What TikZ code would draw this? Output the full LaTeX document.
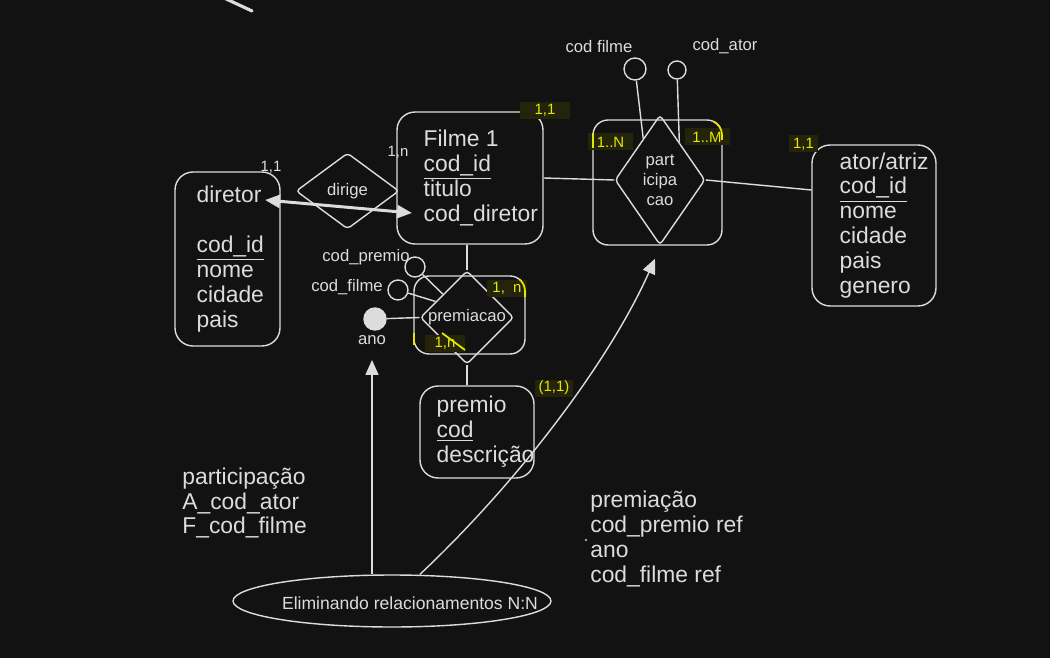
\documentclass[tikz,border=0pt]{standalone}
\usepackage{fontspec}
\setmainfont{Liberation Sans}
\usetikzlibrary{shapes.geometric,arrows.meta}
\definecolor{bgdark}{HTML}{121212}
\definecolor{ink}{HTML}{DCDCDC}
\definecolor{cardyellow}{HTML}{E6E600}
\definecolor{cardbg}{HTML}{24240A}

\begin{document}
\begin{tikzpicture}[x=0.02cm,y=-0.02cm,
   every node/.style={text=ink},
   entity/.style={draw=ink,line width=0.8pt,rounded corners=0.36cm,inner sep=0},
   relbox/.style={draw=ink,line width=0.8pt,rounded corners=0.3cm,inner sep=0},
   rel/.style={draw=ink,line width=0.8pt,diamond,rounded corners=2pt,inner sep=0,
     align=center,font=\fontsize{9.5}{11.4}\selectfont},
   attrs/.style={align=left,inner sep=0,font=\fontsize{13}{14.2}\selectfont},
   attr/.style={draw=ink,line width=0.8pt,circle,inner sep=0},
   small/.style={inner sep=0,font=\fontsize{9.5}{11}\selectfont},
   tiny/.style={inner sep=0,font=\fontsize{8.5}{10}\selectfont},
   card/.style={fill=cardbg,text=cardyellow,inner sep=0,minimum height=0.34cm,
     font=\fontsize{8.5}{10}\selectfont},
   mark edge/.style={draw=cardyellow,line width=1pt},
   link/.style={draw=ink,line width=0.8pt},
   tip/.style={-{Triangle[length=0.3cm,width=0.26cm]}}
]
   \useasboundingbox (0,0) rectangle (1050,658);
   \fill[bgdark] (0,0) rectangle (1050,658);
   \draw[ink,line width=1.8pt,line cap=round] (222,-3) -- (252,11);

   \path (227.5,259) node[entity,minimum width=2.1cm,minimum height=3.48cm] (diretor) {};
   \path ([xshift=0.44cm]diretor.west) node[attrs,anchor=west] (diretor-txt)
   {diretor\\[14.2pt]\underline{cod\_id}\\nome\\cidade\\pais};

   \path (470,178) node[entity,minimum width=2.92cm,minimum height=2.64cm] (filme) {};
   \path ([xshift=0.54cm]filme.west) node[attrs,anchor=west] (filme-txt)
   {Filme 1\\\underline{cod\_id}\\titulo\\cod\_diretor};

   \path (874,225.5) node[entity,minimum width=2.48cm,minimum height=3.22cm] (ator) {};
   \path ([xshift=0.56cm]ator.west) node[attrs,anchor=west] (ator-txt)
   {ator/atriz\\\underline{cod\_id}\\nome\\cidade\\pais\\genero};

   \path (477,432) node[entity,minimum width=2.28cm,minimum height=1.84cm] (premio) {};
   \path ([xshift=0.34cm]premio.west) node[attrs,anchor=west] (premio-txt)
   {premio\\\underline{cod}\\descrição};

   \path (347.5,191) node[rel,minimum width=2.06cm,minimum height=1.52cm] (dirige) {dirige};

   \path (657.5,182.5) node[relbox,minimum width=2.58cm,minimum height=2.5cm] (part-box) {};
   \path (660,180) node[rel,minimum width=1.8cm,minimum height=2.6cm] (participa) {part\\icipa\\cao};

   \path (469.5,315) node[relbox,minimum width=2.22cm,minimum height=1.56cm] (prem-box) {};
   \path (467,317.5) node[rel,minimum width=1.84cm,minimum height=1.38cm] (premiacao) {premiacao};

   \path (635,69) node[attr,minimum size=0.44cm] (codfilme) {};
   \path (599,47) node[small] (codfilme-lbl) {cod filme};
   \path (677,70) node[attr,minimum size=0.36cm] (codator) {};
   \path (725,46) node[small] (codator-lbl) {cod\_ator};
   \path (415,267) node[attr,minimum size=0.4cm] (codpremio) {};
   \path (366,257) node[small] (codpremio-lbl) {cod\_premio};
   \path (398,290) node[attr,minimum size=0.4cm] (codfilme2) {};
   \path (347,287) node[small] (codfilme2-lbl) {cod\_filme};
   \path (375,319) node[attr,fill=ink,minimum size=0.44cm] (ano) {};
   \path (372,340) node[small] (ano-lbl) {ano};

   \path (271,167) node[tiny] (card-dir) {1,1};
   \path (398,152) node[tiny] (card-fil) {1,n};
   \path (545,110.5) node[card,minimum width=1cm] (card-fp) {1,1};
   \path (610.5,142) node[card,minimum width=0.9cm] (card-n) {1..N};
   \path (707,137) node[card,minimum width=0.9cm] (card-m) {1..M};
   \path (803.5,144) node[card,minimum width=0.58cm] (card-at) {1,1};
   \path (507,288.5) node[card,minimum width=0.8cm] (card-pf) {1,\ \ n};
   \path (445,343.5) node[card,minimum width=0.8cm] (card-pp) {1,n};
   \path (554,388) node[card,minimum width=0.75cm] (card-pr) {(1,1)};

   \draw[mark edge] (593,133) -- (593,148);
   \draw[mark edge] (713.3,121.4) arc[start angle=65,end angle=0,radius=0.3cm] -- (722,140);
   \draw[mark edge] (519.6,279.5) arc[start angle=50,end angle=0,radius=0.3cm] -- (525,297);
   \draw[mark edge] (442,333) -- (465,350);
   \draw[mark edge] (414,333) -- (414,345);

   \draw[link] (filme.east) -- (participa.west);
   \draw[link] (participa.east) -- ([yshift=0.71cm]ator.west);
   \draw[link] (premiacao.north |- filme.south) -- (premiacao.north);
   \draw[link] (premiacao.south) -- (premiacao.south |- premio.north);
   \draw[link] (codfilme) -- (participa.112);
   \draw[link] (codator) -- (participa.63);
   \draw[link] (codpremio) -- (premiacao.136);
   \draw[link] (codfilme2) -- (premiacao.153);
   \draw[link] (ano) -- (premiacao.west);

   \path (265,200) coordinate (dir-a);
   \path (412,213) coordinate (dir-b);
   \draw[link,line width=1.7pt,{Triangle[length=0.3cm,width=0.26cm]}-{Triangle[length=0.3cm,width=0.26cm]}]
     (dir-a) -- (dir-b);

   \path (392,601) node[draw=ink,ellipse,line width=0.8pt,minimum width=6.36cm,
     minimum height=1.04cm,inner sep=0] (elim) {};
   \path (410,603) node[inner sep=0,font=\fontsize{10}{12}\selectfont] (elim-txt)
   {Eliminando relacionamentos N:N};

   \draw[link,tip] (ano-lbl |- elim.north) -- ([yshift=-0.3cm]ano-lbl.south);
   \draw[link,tip] ([xshift=0.56cm]elim.north) .. controls (520,480) and (610,360) ..
     ([xshift=-0.05cm,yshift=-0.26cm]part-box.south);

   \path (182,503) node[attrs,anchor=west] (notes-part)
   {participação\\A\_cod\_ator\\F\_cod\_filme};
   \path (590,539) node[attrs,anchor=west] (notes-prem)
   {premiação\\cod\_premio ref\\ano\\cod\_filme ref};
   \fill[ink] (586,540) circle (0.6pt);
\end{tikzpicture}
\end{document}
